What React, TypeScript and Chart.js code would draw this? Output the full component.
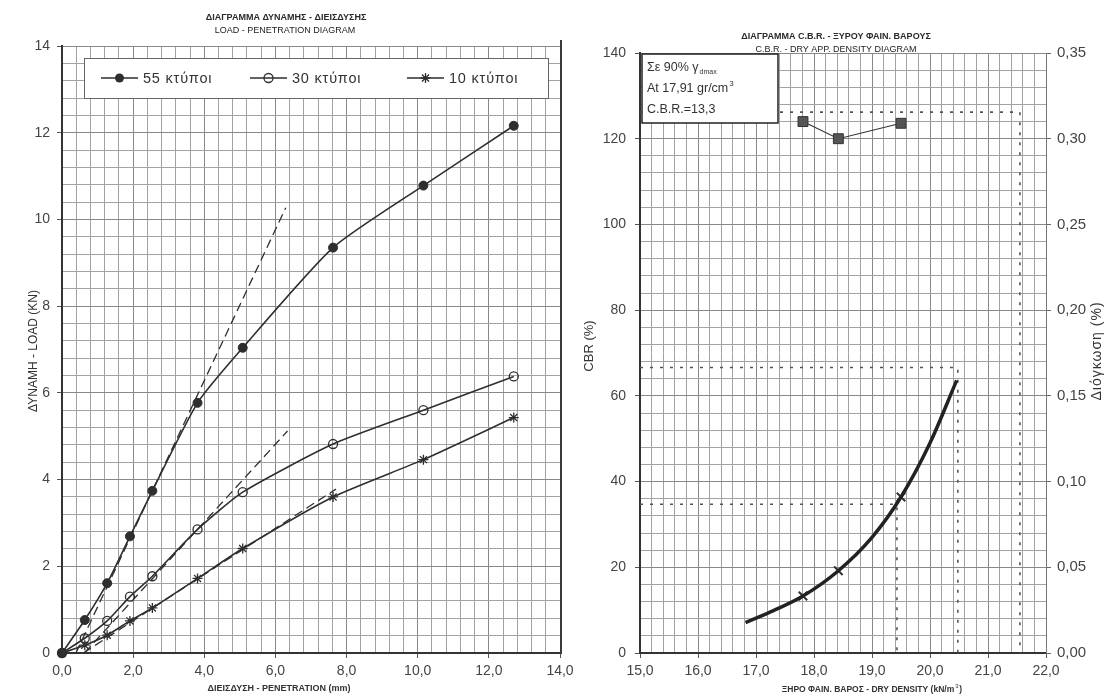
import React, { useEffect, useRef } from 'react';
import { Chart, registerables } from 'chart.js';

Chart.register(...registerables);

// ---- Load - penetration test data (kN vs mm) ----
const PENETRATION = [0, 0.64, 1.27, 1.91, 2.54, 3.81, 5.08, 7.62, 10.16, 12.7];
const LOAD_55 = [0, 0.76, 1.61, 2.69, 3.74, 5.77, 7.04, 9.35, 10.78, 12.16];
const LOAD_30 = [0, 0.34, 0.74, 1.3, 1.77, 2.85, 3.71, 4.82, 5.6, 6.38];
const LOAD_10 = [0, 0.18, 0.41, 0.74, 1.04, 1.72, 2.41, 3.6, 4.46, 5.43];
const BLOW_LABELS = ['55 κτύποι', '30 κτύποι', '10 κτύποι'];

// corrected initial tangents (start and end point of each dashed line)
const TANGENT_55_X = [0.39, 6.29];
const TANGENT_55_Y = [0, 10.27];
const TANGENT_30_X = [0.63, 6.34];
const TANGENT_30_Y = [0, 5.12];
const TANGENT_10_X = [0.6, 7.7];
const TANGENT_10_Y = [0, 3.78];

// ---- CBR / swell vs dry density ----
const DENSITY = [17.81, 18.42, 19.5];
const CBR = [13.3, 19.2, 36.4];
const SWELL = [0.31, 0.3, 0.309];
const CBR_CURVE_X = [16.82, 17.3, 17.81, 18.42, 19.0, 19.5, 20.0, 20.46];
const CBR_CURVE_Y = [7.1, 9.9, 13.3, 19.2, 27.0, 36.4, 49.0, 63.6];
const GUIDE_CBR = [126.2, 66.6, 34.7];
const GUIDE_DENSITY = [21.55, 20.48, 19.43];

const W = 1105;
const H = 696;
const FONT = 'Arial, "Liberation Sans", Helvetica, sans-serif';
const INK = '#2e2e2e';
const LABEL = '#444';
const GRID_MINOR = '#a2a2a2';
const GRID_MAJOR = '#888';

const isMajor = (v: number, step: number) => Math.abs(v / step - Math.round(v / step)) < 1e-6;
const comma = (v: number, d: number) => v.toFixed(d).replace('.', ',');
const pts = (xs: number[], ys: number[]) => xs.map((x, i) => ({ x, y: ys[i] }));

function fixBox(size: number, horizontal: boolean) {
  return (scale: any) => {
    if (horizontal) scale.height = size;
    else scale.width = size;
    scale.paddingLeft = 0;
    scale.paddingRight = 0;
    scale.paddingTop = 0;
    scale.paddingBottom = 0;
  };
}

function gridOpts(step: number) {
  return {
    color: (c: any) => (c.tick && isMajor(c.tick.value, step) ? GRID_MAJOR : GRID_MINOR),
    lineWidth: 1,
    tickLength: 5,
    tickColor: (c: any) => (c.tick && isMajor(c.tick.value, step) ? '#555' : 'rgba(0,0,0,0)'),
  };
}

function text(
  ctx: CanvasRenderingContext2D,
  s: string,
  x: number,
  y: number,
  font: string,
  align: CanvasTextAlign = 'center',
  color = '#333',
  spacing = 0,
) {
  ctx.font = font;
  ctx.fillStyle = color;
  ctx.textAlign = align;
  ctx.textBaseline = 'middle';
  (ctx as any).letterSpacing = `${spacing}px`;
  ctx.fillText(s, x, y);
  (ctx as any).letterSpacing = '0px';
}

function vtext(ctx: CanvasRenderingContext2D, s: string, x: number, y: number, font: string, spacing = 0) {
  ctx.save();
  ctx.translate(x, y);
  ctx.rotate(-Math.PI / 2);
  text(ctx, s, 0, 0, font, 'center', '#333', spacing);
  ctx.restore();
}

function drawMarker(ctx: CanvasRenderingContext2D, kind: number, x: number, y: number) {
  ctx.strokeStyle = INK;
  ctx.fillStyle = INK;
  ctx.lineWidth = 1.3;
  if (kind === 0) {
    ctx.beginPath();
    ctx.arc(x, y, 4.5, 0, Math.PI * 2);
    ctx.fill();
  } else if (kind === 1) {
    ctx.beginPath();
    ctx.arc(x, y, 4.5, 0, Math.PI * 2);
    ctx.stroke();
  } else {
    const r = 5;
    ctx.beginPath();
    for (let k = 0; k < 4; k++) {
      const a = (k * Math.PI) / 4;
      ctx.moveTo(x - r * Math.cos(a), y - r * Math.sin(a));
      ctx.lineTo(x + r * Math.cos(a), y + r * Math.sin(a));
    }
    ctx.stroke();
  }
}

const loadDecor = {
  id: 'loadDecor',
  afterDraw(chart: any) {
    const ctx: CanvasRenderingContext2D = chart.ctx;
    const area = chart.chartArea;
    ctx.save();
    // legend box inside the plot
    const bx = 84, by = 58, bw = 464, bh = 40;
    ctx.fillStyle = '#fff';
    ctx.fillRect(bx, by, bw, bh);
    ctx.strokeStyle = '#666';
    ctx.lineWidth = 1;
    ctx.strokeRect(bx + 0.5, by + 0.5, bw, bh);
    const cy = by + bh / 2;
    const starts = [101, 250, 407];
    starts.forEach((sx, i) => {
      ctx.strokeStyle = INK;
      ctx.lineWidth = 1.6;
      ctx.beginPath();
      ctx.moveTo(sx, cy);
      ctx.lineTo(sx + 37, cy);
      ctx.stroke();
      drawMarker(ctx, i, sx + 18.5, cy);
      text(ctx, BLOW_LABELS[i], sx + 42, cy + 1, `14.5px ${FONT}`, 'left', '#333', 0.8);
    });
    // right frame of the plot
    ctx.strokeStyle = '#3a3a3a';
    ctx.lineWidth = 2;
    ctx.beginPath();
    ctx.moveTo(area.right + 1, 40);
    ctx.lineTo(area.right + 1, area.bottom + 1);
    ctx.stroke();
    // titles
    text(ctx, 'ΔΙΑΓΡΑΜΜΑ ΔΥΝΑΜΗΣ - ΔΙΕΙΣΔΥΣΗΣ', 286, 18, `bold 9px ${FONT}`, 'center', '#2a2a2a');
    text(ctx, 'LOAD - PENETRATION DIAGRAM', 285, 31, `9px ${FONT}`, 'center', '#222');
    text(ctx, 'ΔΙΕΙΣΔΥΣΗ - PENETRATION (mm)', 279, 689, `bold 9px ${FONT}`);
    vtext(ctx, 'ΔΥΝΑΜΗ - LOAD (KN)', 34, 351, `12px ${FONT}`);
    ctx.restore();
  },
};

const cbrDecor = {
  id: 'cbrDecor',
  afterDraw(chart: any) {
    const ctx: CanvasRenderingContext2D = chart.ctx;
    ctx.save();
    // info box
    const bx = 642, by = 54, bw = 136, bh = 69;
    ctx.fillStyle = '#fff';
    ctx.fillRect(bx, by, bw, bh);
    ctx.strokeStyle = '#222';
    ctx.lineWidth = 1.5;
    ctx.strokeRect(bx, by, bw, bh);
    const f = `12.5px ${FONT}`;
    text(ctx, 'Σε 90% γ', bx + 5, by + 14, f, 'left');
    ctx.font = f;
    const w1 = ctx.measureText('Σε 90% γ').width;
    text(ctx, 'dmax', bx + 5 + w1 + 1, by + 18, `7px ${FONT}`, 'left');
    text(ctx, 'At 17,91 gr/cm', bx + 5, by + 35, f, 'left');
    ctx.font = f;
    const w2 = ctx.measureText('At 17,91 gr/cm').width;
    text(ctx, '3', bx + 5 + w2 + 1, by + 30, `8px ${FONT}`, 'left');
    text(ctx, 'C.B.R.=13,3', bx + 5, by + 56, f, 'left');
    // titles
    text(ctx, 'ΔΙΑΓΡΑΜΜΑ C.B.R. - ΞΥΡΟΥ ΦΑΙΝ. ΒΑΡΟΥΣ', 836, 37, `bold 9px ${FONT}`, 'center', '#2a2a2a');
    text(ctx, 'C.B.R. - DRY APP. DENSITY DIAGRAM', 836, 50, `9px ${FONT}`, 'center', '#222');
    const xt = 'ΞΗΡΟ ΦΑΙΝ. ΒΑΡΟΣ - DRY DENSITY (kN/m';
    ctx.font = `bold 8.5px ${FONT}`;
    const tw = ctx.measureText(xt).width;
    const x0 = 872 - tw / 2 - 4;
    text(ctx, xt, x0, 690, `bold 8.5px ${FONT}`, 'left');
    text(ctx, '3', x0 + tw + 1, 686, `6px ${FONT}`, 'left');
    text(ctx, ')', x0 + tw + 5, 690, `bold 8.5px ${FONT}`, 'left');
    vtext(ctx, 'CBR (%)', 589, 346, `13px ${FONT}`);
    vtext(ctx, 'Διόγκωση (%)', 1097, 351, `14px ${FONT}`, 1);
    ctx.restore();
  },
};

export default function App() {
  const leftRef = useRef<HTMLCanvasElement>(null);
  const rightRef = useRef<HTMLCanvasElement>(null);

  useEffect(() => {
    const tickFont = { family: FONT, size: 14 };
    const dashed = (xs: number[], ys: number[]) => ({
      data: pts(xs, ys),
      borderColor: INK,
      borderWidth: 1.3,
      borderDash: [9, 5],
      pointRadius: 0,
      tension: 0,
    });

    const left = new Chart(leftRef.current!, {
      type: 'line',
      data: {
        datasets: [
          {
            label: BLOW_LABELS[0],
            data: pts(PENETRATION, LOAD_55),
            borderColor: INK,
            backgroundColor: INK,
            borderWidth: 1.6,
            pointStyle: 'circle',
            pointRadius: 4.5,
            pointBorderWidth: 1,
            tension: 0.2,
            clip: false,
          },
          {
            label: BLOW_LABELS[1],
            data: pts(PENETRATION, LOAD_30),
            borderColor: INK,
            backgroundColor: 'rgba(0,0,0,0)',
            borderWidth: 1.6,
            pointStyle: 'circle',
            pointRadius: 4.5,
            pointBorderWidth: 1.3,
            tension: 0.2,
            clip: false,
          },
          {
            label: BLOW_LABELS[2],
            data: pts(PENETRATION, LOAD_10),
            borderColor: INK,
            backgroundColor: INK,
            borderWidth: 1.6,
            pointStyle: 'star',
            pointRadius: 5,
            pointBorderWidth: 1.3,
            tension: 0.2,
            clip: false,
          },
          dashed(TANGENT_55_X, TANGENT_55_Y),
          dashed(TANGENT_30_X, TANGENT_30_Y),
          dashed(TANGENT_10_X, TANGENT_10_Y),
        ] as any,
      },
      options: {
        responsive: false,
        animation: false,
        layout: { padding: { left: 0, top: 46, right: W - 560, bottom: 0 } },
        plugins: { legend: { display: false }, tooltip: { enabled: false } },
        scales: {
          x: {
            type: 'linear',
            min: 0,
            max: 14,
            afterFit: fixBox(43, true),
            ticks: {
              stepSize: 0.4,
              autoSkip: false,
              maxRotation: 0,
              padding: 5,
              font: tickFont,
              color: LABEL,
              callback: (v: any) => (isMajor(+v, 2) ? comma(+v, 1) : ''),
            },
            grid: gridOpts(2),
            border: { color: '#333', width: 2 },
          },
          y: {
            type: 'linear',
            min: 0,
            max: 14,
            afterFit: fixBox(62, false),
            ticks: {
              stepSize: 0.4,
              autoSkip: false,
              padding: 7,
              font: tickFont,
              color: LABEL,
              callback: (v: any) => (isMajor(+v, 2) ? String(Math.round(+v)) : ''),
            },
            grid: gridOpts(2),
            border: { color: '#333', width: 2 },
          },
        },
      } as any,
      plugins: [loadDecor],
    });

    const guide = (i: number) => ({
      data: [
        { x: 15, y: GUIDE_CBR[i] },
        { x: GUIDE_DENSITY[i], y: GUIDE_CBR[i] },
        { x: GUIDE_DENSITY[i], y: 0 },
      ],
      yAxisID: 'y',
      borderColor: '#555',
      borderWidth: 1.6,
      borderDash: [3, 7],
      pointRadius: 0,
      tension: 0,
    });

    const right = new Chart(rightRef.current!, {
      type: 'line',
      data: {
        datasets: [
          {
            label: 'CBR',
            data: pts(CBR_CURVE_X, CBR_CURVE_Y),
            yAxisID: 'y',
            borderColor: '#222',
            borderWidth: 3.5,
            pointRadius: 0,
            cubicInterpolationMode: 'monotone',
          },
          {
            label: 'CBR points',
            data: pts(DENSITY, CBR),
            yAxisID: 'y',
            showLine: false,
            pointStyle: 'crossRot',
            pointRadius: 6,
            pointBorderWidth: 2,
            borderColor: '#333',
          },
          {
            label: 'Διόγκωση',
            data: pts(DENSITY, SWELL),
            yAxisID: 'y2',
            borderColor: '#333',
            borderWidth: 1.2,
            backgroundColor: '#555',
            pointStyle: 'rect',
            pointRadius: 7,
            pointBorderWidth: 1,
            tension: 0,
          },
          guide(0),
          guide(1),
          guide(2),
        ] as any,
      },
      options: {
        responsive: false,
        animation: false,
        layout: { padding: { left: 0, top: 53, right: 0, bottom: 0 } },
        plugins: { legend: { display: false }, tooltip: { enabled: false } },
        scales: {
          x: {
            type: 'linear',
            min: 15,
            max: 22,
            afterFit: fixBox(43, true),
            ticks: {
              stepSize: 0.2,
              autoSkip: false,
              maxRotation: 0,
              padding: 5,
              font: tickFont,
              color: LABEL,
              callback: (v: any) => (isMajor(+v, 1) ? comma(+v, 1) : ''),
            },
            grid: gridOpts(1),
            border: { color: '#333', width: 2 },
          },
          y: {
            type: 'linear',
            position: 'left',
            min: 0,
            max: 140,
            afterFit: fixBox(640, false),
            ticks: {
              stepSize: 4,
              autoSkip: false,
              padding: 9,
              font: tickFont,
              color: LABEL,
              callback: (v: any) => (isMajor(+v, 20) ? String(Math.round(+v)) : ''),
            },
            grid: gridOpts(20),
            border: { color: '#333', width: 2 },
          },
          y2: {
            type: 'linear',
            position: 'right',
            min: 0,
            max: 0.35,
            afterFit: fixBox(59, false),
            ticks: {
              stepSize: 0.05,
              autoSkip: false,
              padding: 6,
              font: { family: FONT, size: 15 },
              color: LABEL,
              callback: (v: any) => comma(+v, 2),
            },
            grid: { drawOnChartArea: false, tickLength: 5, tickColor: '#666' },
            border: { color: '#777', width: 1 },
          },
        },
      } as any,
      plugins: [cbrDecor],
    });

    return () => {
      left.destroy();
      right.destroy();
    };
  }, []);

  const canvasStyle: React.CSSProperties = { position: 'absolute', left: 0, top: 0 };
  return (
    <div style={{ position: 'fixed', left: 0, top: 0, width: W, height: H, background: '#fff', overflow: 'hidden' }}>
      <canvas ref={leftRef} width={W} height={H} style={canvasStyle} />
      <canvas ref={rightRef} width={W} height={H} style={canvasStyle} />
    </div>
  );
}
